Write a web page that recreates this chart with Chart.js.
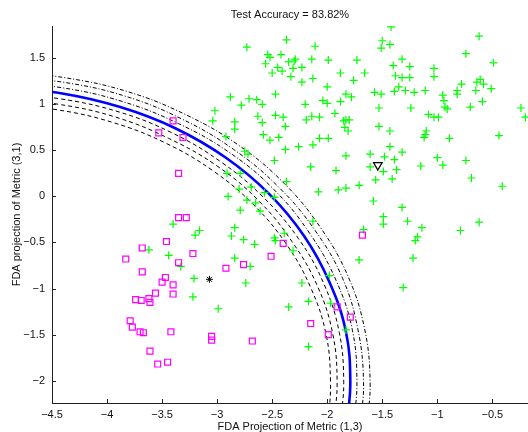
<!DOCTYPE html>
<html>
<head>
<meta charset="utf-8">
<script src="https://cdn.jsdelivr.net/npm/chart.js@4"></script>
<style>
  html, body { margin: 0; padding: 0; background: #fff; }
  canvas { display: block; }
</style>
</head>
<body>
<canvas id="chart" width="528" height="432"></canvas>
<script>
// --- DATA ---

// class 1 (green +)
const greenPts = [
  [-1.42,1.84],[-0.62,1.74],[-2.37,1.70],[-1.50,1.69],[-1.43,1.65],[-1.51,1.61],[-2.73,1.62],[-2.11,1.63],
  [-0.74,1.55],[-2.54,1.54],[-2.52,1.51],[-2.42,1.54],[-2.35,1.46],[-2.29,1.49],[-2.30,1.47],[-2.14,1.49],
  [-1.99,1.48],[-1.73,1.48],[-1.32,1.49],[-2.56,1.44],[-2.45,1.40],[-2.31,1.39],[-2.23,1.40],[-1.40,1.42],
  [-1.25,1.41],[-0.49,1.45],[-2.50,1.34],[-2.41,1.36],[-1.88,1.34],[-1.66,1.34],[-1.03,1.39],[-2.33,1.30],
  [-2.13,1.28],[-1.38,1.31],[-1.32,1.29],[-1.25,1.29],[-1.03,1.30],[-2.23,1.24],[-1.76,1.26],[-0.61,1.27],
  [-0.64,1.24],[-0.58,1.22],[-2.00,1.19],[-1.35,1.19],[-0.78,1.22],[-0.82,1.15],[-0.82,1.11],[-1.57,1.13],
  [-1.51,1.11],[-1.39,1.14],[-1.29,1.15],[-1.21,1.13],[-1.11,1.15],[-0.65,1.15],[-0.51,1.17],[-0.95,1.10],
  [-2.47,1.11],[-1.83,1.11],[-1.78,1.08],[-2.88,1.08],[-2.71,1.06],[-2.64,1.05],[-2.04,1.04],[-1.88,1.03],
  [-0.94,1.04],[-0.59,1.03],[-2.78,0.99],[-2.59,1.00],[-2.20,1.00],[-2.00,1.01],[-0.93,0.97],[-0.91,0.95],
  [-0.70,0.97],[-0.24,0.96],[-1.53,0.96],[-1.24,0.96],[-3.02,0.93],[-1.93,0.90],[-2.63,0.87],[-2.47,0.88],
  [-2.40,0.86],[-2.14,0.87],[-2.07,0.86],[-1.83,0.83],[-1.80,0.83],[-1.85,0.82],[-1.08,0.89],[-1.03,0.86],
  [-0.99,0.86],[-0.20,0.86],[-3.04,0.82],[-2.84,0.81],[-2.59,0.80],[-2.19,0.83],[-1.84,0.75],[-1.81,0.71],
  [-2.38,0.76],[-1.53,0.76],[-2.84,0.73],[-1.43,0.71],[-1.10,0.71],[-1.11,0.67],[-1.12,0.64],[-2.58,0.67],
  [-2.52,0.61],[-2.44,0.64],[-2.07,0.63],[-1.99,0.63],[-0.89,0.63],[-0.44,0.66],[-2.92,0.65],[-2.38,0.51],
  [-2.26,0.54],[-2.13,0.56],[-1.43,0.54],[-1.32,0.48],[-2.48,0.39],[-1.83,0.44],[-1.61,0.46],[-2.15,0.32],
  [-1.92,0.28],[-1.61,0.32],[-1.48,0.43],[-1.39,0.40],[-1.37,0.29],[-1.49,0.27],[-1.15,0.33],[-1.00,0.42],
  [-0.95,0.34],[-0.74,0.39],[-0.69,0.20],[-0.41,0.11],[-2.37,0.16],[-2.08,0.05],[-1.90,0.07],[-1.83,0.09],
  [-1.71,0.12],[-1.56,0.18],[-1.41,0.19],[-1.58,-0.05],[-1.32,-0.12],[-2.61,-0.16],[-1.49,-0.22],[-1.49,-0.30],
  [-1.27,-0.27],[-0.62,-0.28],[-2.13,-0.27],[-1.14,-0.34],[-0.79,-0.37],[-1.67,-0.36],[-1.18,-0.44],[-1.20,-0.48],
  [-2.39,-0.40],[-2.48,-0.45],[-2.47,-0.48],[-2.31,-0.59],[-1.71,-0.69],[-1.22,-0.67],[-1.98,-0.86],[-2.23,-0.94],
  [-1.31,-0.99],[-2.35,-1.20],[-2.17,-1.14],[-1.97,-1.16],[-1.83,-1.45],[-2.17,-1.63],[-2.75,0.49],[-2.72,0.46],
  [-2.91,0.25],[-2.79,0.25],[-2.69,0.10],[-2.80,0.08],[-2.90,0.00],[-2.73,-0.04],[-2.65,-0.07],[-2.79,-0.15],
  [-2.57,0.04],[-2.48,-0.01],[-3.40,-0.30],[-3.16,-0.37],[-3.20,-0.42],[-2.84,-0.34],[-2.87,-0.43],[-2.76,-0.47],
  [-2.66,-0.52],[-3.62,-0.58],[-3.44,-0.64],[-3.33,-0.76],[-2.84,-0.67],[-2.70,-0.76],[-3.21,-0.89],[-2.74,-0.94],
  [-3.22,-1.09],[-2.99,-1.22]
];

// class 2 (magenta squares)
const magentaPts = [
  [-3.40,0.82],[-3.53,0.69],[-3.31,0.64],[-3.35,0.25],[-3.35,-0.23],[-3.28,-0.23],[-3.46,-0.49],[-3.68,-0.56],
  [-3.83,-0.68],[-3.22,-0.62],[-3.35,-0.72],[-3.68,-0.82],[-3.47,-0.88],[-3.50,-0.93],[-3.40,-0.96],[-3.56,-1.05],
  [-3.40,-1.06],[-3.74,-1.12],[-3.62,-1.11],[-3.69,-1.13],[-3.61,-1.15],[-3.79,-1.35],[-3.77,-1.42],[-3.70,-1.47],
  [-3.67,-1.48],[-3.42,-1.47],[-3.61,-1.68],[-3.54,-1.82],[-3.45,-1.80],[-3.05,-1.52],[-3.05,-1.56],[-2.68,-1.57],
  [-2.92,-0.78],[-2.76,-0.74],[-2.51,-0.65],[-2.40,-0.51],[-1.68,-0.42],[-1.91,-1.20],[-1.79,-1.31],[-2.15,-1.38],
  [-1.99,-1.50]
];

const testPt = [[-1.54, 0.34]];   // triangle
const meanPt = [[-3.07, -0.90]];  // asterisk

// decision boundary (blue) and margin curves
const boundary = [[-4.86,1.16],[-4.42,1.12],[-3.88,0.97],[-3.38,0.74],[-2.92,0.42],[-2.53,0.03],[-2.21,-0.43],[-1.98,-0.93],[-1.83,-1.47],[-1.79,-2.02],[-1.82,-2.46]];
const inner1 = [[-4.86,1.10],[-4.43,1.06],[-3.90,0.92],[-3.41,0.69],[-2.96,0.37],[-2.58,-0.01],[-2.26,-0.46],[-2.03,-0.95],[-1.89,-1.48],[-1.85,-2.02],[-1.88,-2.46]];
const inner2 = [[-4.86,1.04],[-4.44,1.00],[-3.92,0.86],[-3.44,0.63],[-3.00,0.33],[-2.62,-0.05],[-2.32,-0.49],[-2.09,-0.97],[-1.95,-1.49],[-1.91,-2.02],[-1.94,-2.45]];
const inner3 = [[-4.87,0.98],[-4.45,0.94],[-3.94,0.80],[-3.47,0.58],[-3.04,0.28],[-2.67,-0.09],[-2.37,-0.52],[-2.15,-0.99],[-2.01,-1.50],[-1.97,-2.02],[-1.99,-2.44]];
const outer1 = [[-4.86,1.22],[-4.41,1.18],[-3.86,1.03],[-3.35,0.79],[-2.88,0.47],[-2.48,0.07],[-2.16,-0.40],[-1.92,-0.91],[-1.77,-1.46],[-1.73,-2.02],[-1.76,-2.47]];
const outer2 = [[-4.86,1.28],[-4.40,1.24],[-3.84,1.09],[-3.32,0.84],[-2.85,0.51],[-2.44,0.10],[-2.11,-0.37],[-1.86,-0.89],[-1.72,-1.45],[-1.67,-2.02],[-1.70,-2.48]];
const outer3 = [[-4.85,1.34],[-4.39,1.29],[-3.82,1.14],[-3.29,0.89],[-2.81,0.56],[-2.39,0.14],[-2.06,-0.34],[-1.81,-0.87],[-1.66,-1.44],[-1.61,-2.02],[-1.64,-2.49]];

const xTicks = [-4.5, -4, -3.5, -3, -2.5, -2, -1.5, -1, -0.5];
const yTicks = [-2, -1.5, -1, -0.5, 0, 0.5, 1, 1.5];

// --- HELPERS ---

const FONT = "'Liberation Sans', Arial, Helvetica, sans-serif";
const toXY = arr => arr.map(p => ({ x: p[0], y: p[1] }));
const fmt = v => (v < 0 ? '\u2212' + Math.abs(v) : String(v));

function curve(points, color, width, dash) {
  return {
    type: 'scatter',
    data: toXY(points),
    showLine: true,
    borderColor: color,
    borderWidth: width,
    borderDash: dash,
    pointRadius: 0,
    tension: 0.4,
    fill: false,
    order: 2
  };
}

function markers(points, style, color, radius, extra) {
  return Object.assign({
    type: 'scatter',
    data: toXY(points),
    pointStyle: style,
    pointRadius: radius,
    pointBorderColor: color,
    pointBackgroundColor: 'rgba(0,0,0,0)',
    pointBorderWidth: 1.2,
    order: 1
  }, extra || {});
}

// MATLAB style ticks pointing into the axes
const inwardTicks = {
  id: 'inwardTicks',
  afterDraw(chart) {
    const { ctx, chartArea: a, scales: { x, y } } = chart;
    ctx.save();
    ctx.strokeStyle = '#222';
    ctx.lineWidth = 1;
    ctx.beginPath();
    xTicks.forEach(v => {
      const px = Math.round(x.getPixelForValue(v)) + 0.5;
      ctx.moveTo(px, a.bottom);
      ctx.lineTo(px, a.bottom - 4);
    });
    yTicks.forEach(v => {
      const py = Math.round(y.getPixelForValue(v)) + 0.5;
      ctx.moveTo(a.left, py);
      ctx.lineTo(a.left + 4, py);
    });
    ctx.stroke();
    ctx.restore();
  }
};

// --- CHART ---

new Chart(document.getElementById('chart'), {
  type: 'scatter',
  data: {
    datasets: [
      markers(testPt, 'triangle', '#000', 5, { pointRotation: 180, order: 0 }),
      markers(meanPt, 'star', '#000', 3.5, { pointBorderWidth: 1, order: 0 }),
      markers(magentaPts, 'rect', '#ff00ff', 4.2),
      markers(greenPts, 'cross', '#00ff00', 4),
      curve(outer3, '#000', 1, [4, 2, 1, 2]),
      curve(outer2, '#000', 1, [4, 2, 1, 2]),
      curve(outer1, '#000', 1, [4, 2, 1, 2]),
      curve(inner1, '#000', 1, [4, 3]),
      curve(inner2, '#000', 1, [4, 3]),
      curve(inner3, '#000', 1, [4, 3]),
      curve(boundary, '#0000ff', 2.6, [])
    ]
  },
  options: {
    responsive: false,
    animation: false,
    events: [],
    layout: { padding: 0, autoPadding: false },
    plugins: {
      legend: { display: false },
      tooltip: { enabled: false },
      title: {
        display: true,
        fullSize: false,
        text: 'Test Accuracy = 83.82%',
        color: '#111',
        font: { family: FONT, size: 11, weight: 'normal' },
        padding: { top: 8, bottom: 4.8 }
      }
    },
    scales: {
      x: {
        type: 'linear',
        min: -4.5,
        max: -0.176,
        grid: { display: false, drawTicks: false },
        border: { display: true, color: '#222', width: 1 },
        afterBuildTicks: s => { s.ticks = xTicks.map(v => ({ value: v })); },
        ticks: { padding: 5, color: '#111', maxRotation: 0, autoSkip: false, font: { family: FONT, size: 11 }, callback: fmt },
        title: { display: true, text: 'FDA Projection of Metric (1,3)', color: '#111', font: { family: FONT, size: 11 }, padding: { top: 0, bottom: -2 } },
        afterFit: s => { s.height = 29; }
      },
      y: {
        type: 'linear',
        min: -2.243,
        max: 1.85,
        grid: { display: false, drawTicks: false },
        border: { display: true, color: '#222', width: 1 },
        afterBuildTicks: s => { s.ticks = yTicks.map(v => ({ value: v })); },
        ticks: { padding: 7, color: '#111', autoSkip: false, font: { family: FONT, size: 11 }, callback: fmt },
        title: { display: true, text: 'FDA projection of Metric (3,1)', color: '#111', font: { family: FONT, size: 11 }, padding: { top: 10, bottom: 0 } },
        afterFit: s => { s.width = 52; }
      }
    }
  },
  plugins: [inwardTicks]
});
</script>
</body>
</html>
